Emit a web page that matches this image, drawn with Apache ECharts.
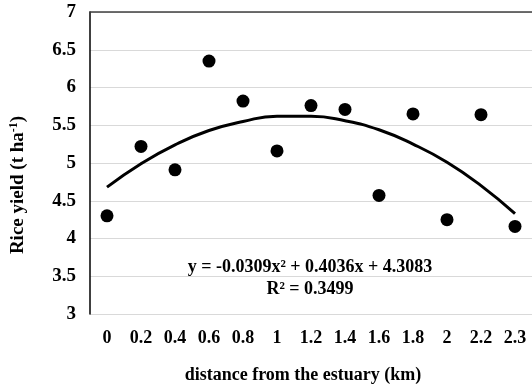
<!DOCTYPE html>
<html><head><meta charset="utf-8">
<script src="https://cdn.jsdelivr.net/npm/echarts@6/dist/echarts.min.js"></script>
<style>html,body{margin:0;padding:0;background:#fff}#c{width:532px;height:389px}</style>
</head><body><div id="c"></div>
<script>
const categories = ['0','0.2','0.4','0.6','0.8','1','1.2','1.4','1.6','1.8','2','2.2','2.3'];
const riceYield = [4.30, 5.22, 4.91, 6.35, 5.82, 5.16, 5.76, 5.71, 4.57, 5.65, 4.25, 5.64, 4.16];
const trendValues = [4.68, 4.99, 5.24, 5.43, 5.55, 5.62, 5.62, 5.56, 5.44, 5.25, 5.01, 4.70, 4.33];
const yTicks = {min: 3, max: 7, interval: 0.5};
const equationText = 'y = -0.0309x² + 0.4036x + 4.3083';
const r2Text = 'R² = 0.3499';

const font = "'Liberation Serif','Times New Roman',serif";
const chart = echarts.init(document.getElementById('c'));
chart.setOption({
  animation: false,
  grid: {left: 90, top: 12, width: 445, height: 305, containLabel: false},
  xAxis: [{
    type: 'category', data: categories, boundaryGap: true,
    axisLine: {show: false}, axisTick: {show: false},
    axisLabel: {color: '#000', fontFamily: font, fontWeight: 'bold', fontSize: 18, margin: 15},
    name: 'distance from the estuary (km)', nameLocation: 'middle', nameGap: 52,
    nameTextStyle: {color: '#000', fontFamily: font, fontWeight: 'bold', fontSize: 18, padding: [0, 16, 0, 0]}
  }, {
    type: 'category', data: categories, position: 'top',
    axisLine: {show: true, lineStyle: {color: '#404040', width: 1.5}},
    axisTick: {show: false}, axisLabel: {show: false}
  }],
  yAxis: {
    type: 'value', min: yTicks.min, max: yTicks.max, interval: yTicks.interval,
    axisLine: {show: true, lineStyle: {color: '#000', width: 1.5}},
    axisTick: {show: false},
    splitLine: {lineStyle: {color: '#d9d9d9', width: 1}},
    axisLabel: {color: '#000', fontFamily: font, fontWeight: 'bold', fontSize: 19, margin: 14},
    name: 'Rice yield (t ha{sup|-1})', nameLocation: 'middle', nameGap: 61,
    nameTextStyle: {color: '#000', fontFamily: font, fontWeight: 'bold', fontSize: 19, padding: [0, 44, 0, 0],
      rich: {sup: {fontFamily: font, fontWeight: 'bold', fontSize: 12, verticalAlign: 'top', color: '#000', padding: [0,0,9,0]}}}
  },
  series: [{
    type: 'line', data: trendValues, smooth: true, symbol: 'none',
    lineStyle: {color: '#000', width: 3}, z: 2
  }, {
    type: 'scatter', data: riceYield, symbol: 'circle', symbolSize: 13,
    itemStyle: {color: '#000', opacity: 1}, z: 3
  }],
  graphic: [{
    type: 'text', x: 310, y: 267, style: {text: equationText, font: 'bold 18px ' + font, fill: '#000', align: 'center', verticalAlign: 'middle'}
  }, {
    type: 'text', x: 310, y: 289, style: {text: r2Text, font: 'bold 18px ' + font, fill: '#000', align: 'center', verticalAlign: 'middle'}
  }]
});
</script></body></html>
